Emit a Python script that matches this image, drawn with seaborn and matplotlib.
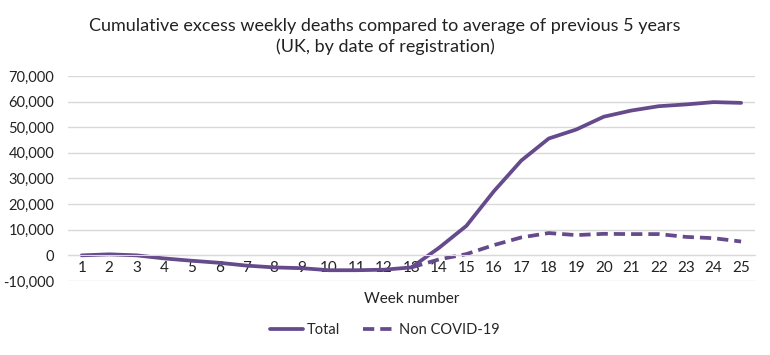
import numpy as np
import pandas as pd
import seaborn as sns
import matplotlib.pyplot as plt
from matplotlib.ticker import FuncFormatter

# data
weeks = list(range(1, 26))
total = [0, 400, 0, -1200, -2100, -2900, -4000, -4700, -5000, -5800, -5800, -5600, -4700,
         2900, 11500, 25000, 37000, 45600, 49100, 54100, 56500, 58200, 58900, 59800, 59500]
weeks_non_covid = list(range(13, 26))
non_covid = [-4700, -1600, 500, 4000, 7000, 8700, 7900, 8400, 8300, 8300, 7200, 6700, 5400]

purple = "#654a8c"

df = pd.concat([
    pd.DataFrame({"week": weeks, "deaths": total, "series": "Total"}),
    pd.DataFrame({"week": weeks_non_covid, "deaths": non_covid, "series": "Non COVID-19"}),
])

sns.set_style("white")
plt.rcParams["font.family"] = ["Lato", "DejaVu Sans"]

fig = plt.figure(figsize=(7.7, 3.55), dpi=100)
ax = fig.add_axes([0.0883, 0.2085, 0.892, 0.5775])

sns.lineplot(data=df, x="week", y="deaths", hue="series", style="series",
             palette={"Total": purple, "Non COVID-19": purple},
             dashes={"Total": "", "Non COVID-19": (3, 1.6)},
             linewidth=2.7, ax=ax, legend=False)

ax.set_xlim(0.5, 25.5)
ax.set_ylim(-10000, 70000)
ax.set_yticks(range(-10000, 70001, 10000))
ax.set_xticks(weeks)
ax.yaxis.set_major_formatter(FuncFormatter(lambda v, p: f"{int(v):,}"))
ax.grid(axis="y", color="#d9d9d9", linewidth=1)
ax.set_axisbelow(True)
for s in ["top", "right", "left"]:
    ax.spines[s].set_visible(False)
ax.spines["bottom"].set_position(("data", 0))
ax.spines["bottom"].set_color("#d9d9d9")
ax.tick_params(axis="both", length=0, labelsize=11, colors="#222222")
ax.tick_params(axis="y", labelsize=10.5, pad=10)
ax.tick_params(axis="x", pad=4)
ax.set_ylabel("")
ax.set_xlabel("Week number", fontsize=11, color="#222222")
ax.xaxis.set_label_coords(0.5, -0.055)

fig.text(0.5, 0.898, "Cumulative excess weekly deaths compared to average of previous 5 years\n(UK, by date of registration)",
         ha="center", va="center", fontsize=13, color="#222222", linespacing=1.35)

handles = [plt.Line2D([], [], color=purple, lw=2.7),
           plt.Line2D([], [], color=purple, lw=2.7, linestyle=(0, (3, 1.6)))]
fig.legend(handles, ["Total", "Non COVID-19"], loc="center", bbox_to_anchor=(0.5, 1 - 330 / 355),
           ncol=2, frameon=False, fontsize=10.5, handlelength=2.3, columnspacing=1.6, handletextpad=0.2)

fig.savefig("out.png", dpi=100)
